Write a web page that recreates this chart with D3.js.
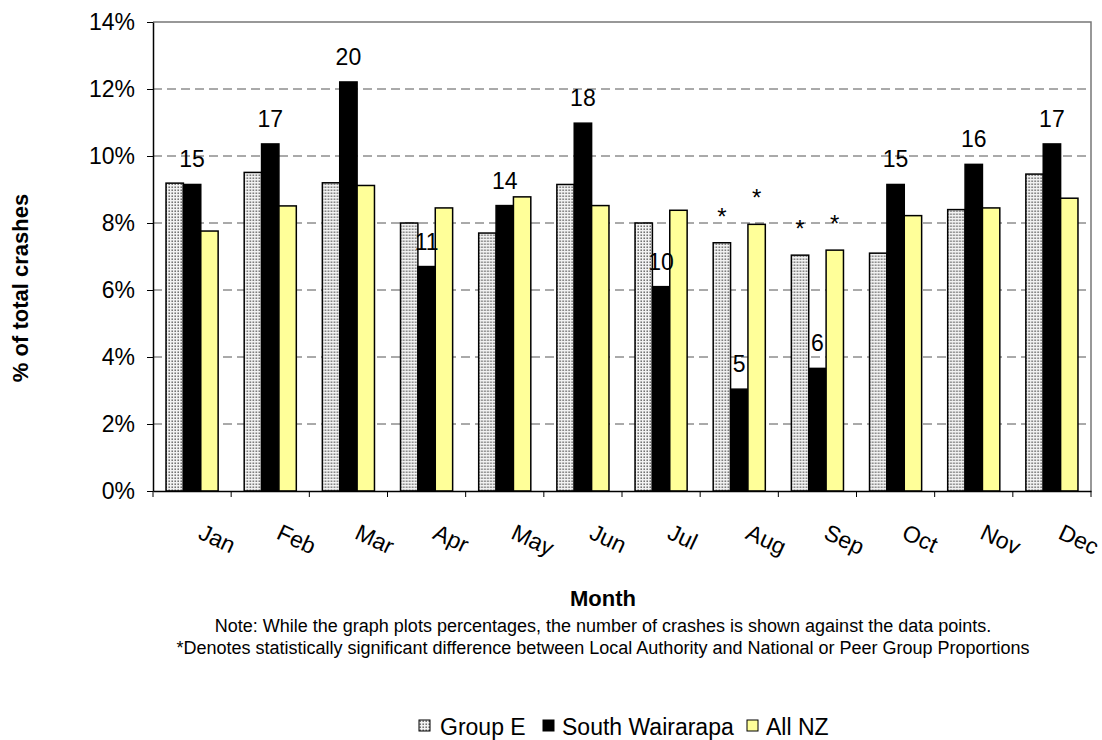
<!DOCTYPE html>
<html>
<head>
<meta charset="utf-8">
<script src="https://cdn.jsdelivr.net/npm/d3@7"></script>
<style>
  html, body { margin: 0; padding: 0; background: #fff; }
  svg { display: block; font-family: "Liberation Sans", Arial, sans-serif; }
</style>
</head>
<body>
<svg id="chart" width="1102" height="740"></svg>
<script>
// Monthly share of crashes (%), with crash counts for South Wairarapa
const months = ["Jan", "Feb", "Mar", "Apr", "May", "Jun", "Jul", "Aug", "Sep", "Oct", "Nov", "Dec"];
const seriesNames = ["Group E", "South Wairarapa", "All NZ"];
const groupE = [9.19, 9.51, 9.2, 8.0, 7.7, 9.15, 8.0, 7.41, 7.04, 7.1, 8.4, 9.46];
const southWairarapa = [9.15, 10.36, 12.21, 6.7, 8.52, 10.98, 6.1, 3.04, 3.66, 9.15, 9.75, 10.36];
const allNZ = [7.76, 8.51, 9.12, 8.45, 8.78, 8.52, 8.38, 7.96, 7.19, 8.22, 8.45, 8.74];
const crashCounts = [15, 17, 20, 11, 14, 18, 10, 5, 6, 15, 16, 17];
// Significant differences flagged with an asterisk: [month, series index]
const significant = [["Aug", 0], ["Aug", 2], ["Sep", 0], ["Sep", 2]];
const yTicks = [0, 2, 4, 6, 8, 10, 12, 14];

const seriesValues = [groupE, southWairarapa, allNZ];
const rows = months.map((m, i) => ({ month: m, values: seriesValues.map(s => s[i]) }));

const svg = d3.select("#chart");
const margin = { left: 153, right: 1091, top: 22, bottom: 491 };

const defs = svg.append("defs");
const pat = defs.append("pattern")
  .attr("id", "dots")
  .attr("patternUnits", "userSpaceOnUse")
  .attr("width", 3).attr("height", 3);
pat.append("rect").attr("width", 3).attr("height", 3).attr("fill", "#f2f2f2");
pat.append("rect").attr("x", 0.5).attr("y", 0.5).attr("width", 1.4).attr("height", 1.4).attr("fill", "#555");

const fills = ["url(#dots)", "#000000", "#FFFF99"];

const x = d3.scaleBand().domain(months).range([margin.left, margin.right]).paddingInner(0).paddingOuter(0);
const xs = d3.scaleBand().domain([0, 1, 2]).range([0, x.bandwidth()]).paddingInner(0).paddingOuter(0.75);
const y = d3.scaleLinear().domain([0, 14]).range([margin.bottom, margin.top]);

// Gridlines
svg.append("g")
  .selectAll("line")
  .data(yTicks.filter(t => t > 0 && t < 14))
  .join("line")
  .attr("x1", margin.left).attr("x2", margin.right)
  .attr("y1", d => y(d)).attr("y2", d => y(d))
  .attr("stroke", "#555").attr("stroke-width", 1)
  .attr("stroke-dasharray", "9,5");

// Plot frame (top and right)
svg.append("path")
  .attr("d", `M${margin.left},${y(14)}H${margin.right}V${margin.bottom}`)
  .attr("fill", "none").attr("stroke", "#777").attr("stroke-width", 1.5);

// Bars
const groups = svg.append("g").selectAll("g")
  .data(rows).join("g")
  .attr("transform", d => `translate(${x(d.month)},0)`);

groups.selectAll("rect")
  .data(d => d.values.map((v, k) => ({ v, k })))
  .join("rect")
  .attr("x", d => xs(d.k))
  .attr("width", xs.bandwidth())
  .attr("y", d => y(d.v))
  .attr("height", d => y(0) - y(d.v))
  .attr("fill", d => fills[d.k])
  .attr("stroke", "#000")
  .attr("stroke-width", 1.5);

// Crash count labels over South Wairarapa bars
svg.append("g").selectAll("text")
  .data(rows)
  .join("text")
  .attr("x", (d) => x(d.month) + xs(1) + xs.bandwidth() / 2)
  .attr("y", (d, i) => y(southWairarapa[i]) - 17)
  .attr("text-anchor", "middle")
  .attr("font-size", 23)
  .attr("fill", "#000")
  .text((d, i) => crashCounts[i]);

// Asterisks
svg.append("g").selectAll("text")
  .data(significant)
  .join("text")
  .attr("x", d => x(d[0]) + xs(d[1]) + xs.bandwidth() / 2)
  .attr("y", d => y(seriesValues[d[1]][months.indexOf(d[0])]) - 18)
  .attr("text-anchor", "middle")
  .attr("font-size", 24)
  .text("*");

// Y axis
const yAxis = d3.axisLeft(y).tickValues(yTicks).tickFormat(d => d + "%").tickSize(6).tickSizeOuter(0);
const gy = svg.append("g").attr("transform", `translate(${margin.left},0)`).call(yAxis);
gy.select(".domain").attr("stroke", "#000").attr("stroke-width", 1.5);
gy.selectAll(".tick line").attr("stroke", "#000");
gy.selectAll(".tick text").attr("font-size", 23).attr("fill", "#000")
  .attr("font-family", "Liberation Sans, Arial, sans-serif").attr("x", -18);

// X axis
const xAxis = d3.axisBottom(x).tickSize(0).tickFormat("");
const gx = svg.append("g").attr("transform", `translate(0,${margin.bottom})`).call(xAxis);
gx.select(".domain").attr("stroke", "#000").attr("stroke-width", 1.5);
svg.append("g").selectAll("line")
  .data(months.concat(["end"]))
  .join("line")
  .attr("x1", (d, i) => margin.left + i * x.step())
  .attr("x2", (d, i) => margin.left + i * x.step())
  .attr("y1", margin.bottom).attr("y2", margin.bottom + 6)
  .attr("stroke", "#000").attr("stroke-width", 1);

svg.append("g").selectAll("text")
  .data(months)
  .join("text")
  .attr("transform", d => `translate(${x(d) + x.bandwidth() / 2 + 5},${margin.bottom + 47}) rotate(25)`)
  .attr("font-size", 23)
  .attr("fill", "#000")
  .text(d => d);

// Axis titles
svg.append("text")
  .attr("transform", "translate(28,288) rotate(-90)")
  .attr("text-anchor", "middle")
  .attr("font-size", 22).attr("font-weight", "bold")
  .text("% of total crashes");

svg.append("text")
  .attr("x", 603).attr("y", 606)
  .attr("text-anchor", "middle")
  .attr("font-size", 22).attr("font-weight", "bold")
  .text("Month");

// Notes
svg.append("text")
  .attr("x", 603).attr("y", 632)
  .attr("text-anchor", "middle").attr("font-size", 18)
  .text("Note: While the graph plots percentages, the number of crashes is shown against the data points.");
svg.append("text")
  .attr("x", 603).attr("y", 654)
  .attr("text-anchor", "middle").attr("font-size", 18)
  .text("*Denotes statistically significant difference between Local Authority and National or Peer Group Proportions");

// Legend
const legendItems = [
  { name: seriesNames[0], fill: fills[0], x: 419 },
  { name: seriesNames[1], fill: fills[1], x: 543 },
  { name: seriesNames[2], fill: fills[2], x: 747 }
];
const lg = svg.append("g").selectAll("g").data(legendItems).join("g")
  .attr("transform", d => `translate(${d.x},720)`);
lg.append("rect")
  .attr("width", 11).attr("height", 11)
  .attr("fill", d => d.fill).attr("stroke", "#000").attr("stroke-width", 1);
lg.append("text")
  .attr("x", (d, i) => i === 0 ? 21 : 19).attr("y", 15)
  .attr("font-size", 23)
  .text(d => d.name);
</script>
</body>
</html>
